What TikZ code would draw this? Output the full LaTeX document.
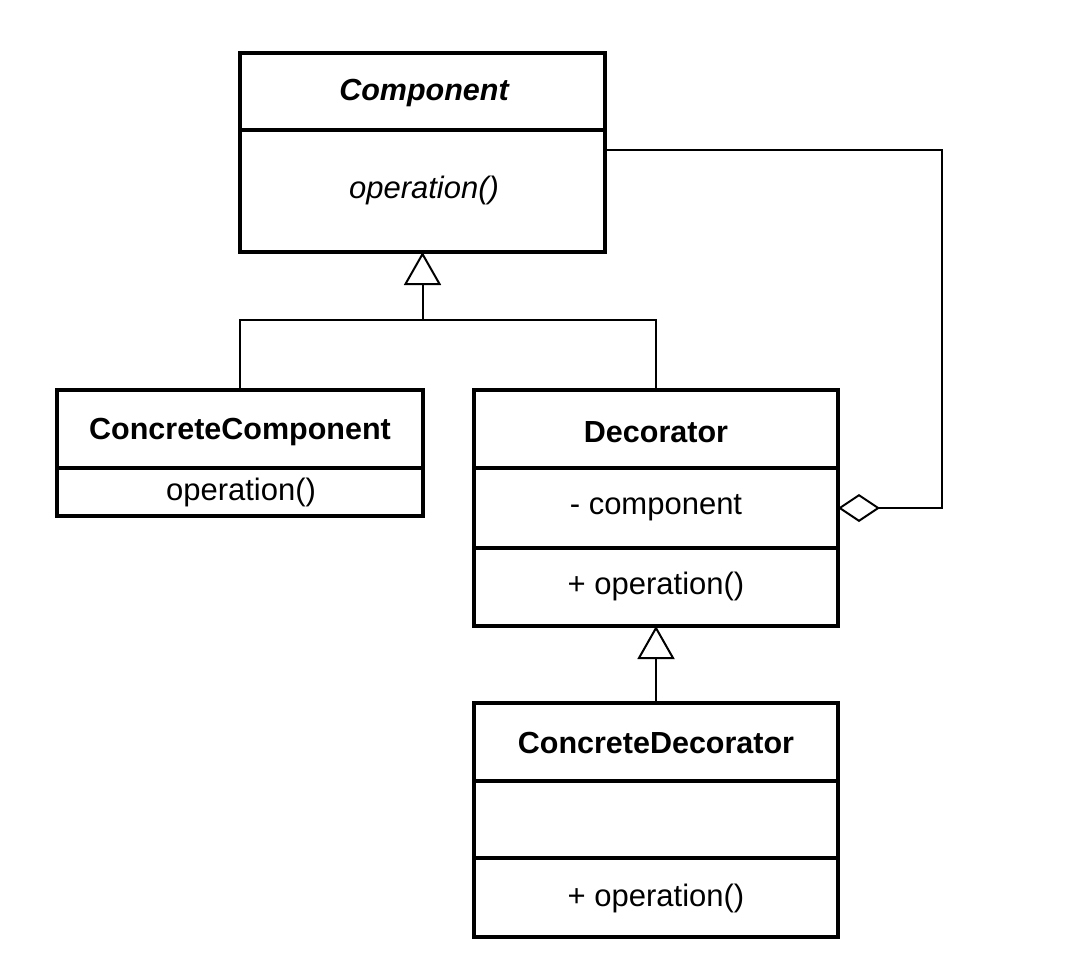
\documentclass[tikz,border=0pt]{standalone}
\usepackage{fontspec}
\setmainfont{Liberation Sans}
\usetikzlibrary{arrows.meta}
\begin{document}
\begin{tikzpicture}[x=1pt,y=-1pt,
  box/.style={draw=black, line width=4pt, inner sep=0pt, outer sep=0pt, anchor=north west, fill=white},
  sep/.style={line width=3.5pt},
  lbl/.style={inner sep=0pt, font=\fontsize{31}{36}\selectfont},
  bold/.style={inner sep=0pt, font=\fontsize{30.5}{36}\selectfont\bfseries},
  conn/.style={line width=2pt},
  inherit/.style={conn, -{Triangle[open, length=33pt, width=37pt, fill=white]}},
  aggr/.style={conn, {Diamond[open, length=42pt, width=28pt, fill=white]}-}]
\useasboundingbox (0,0) rectangle (1072,962);
% boxes
\node[box, minimum width=365pt, minimum height=199pt] (comp) at (240,53) {};
\node[box, minimum width=366pt, minimum height=126pt] (cc) at (57,390) {};
\node[box, minimum width=364pt, minimum height=236pt] (dec) at (474,390) {};
\node[box, minimum width=364pt, minimum height=234pt] (cd) at (474,703) {};
% separators
\draw[sep] (comp.west |- 0,130) -- (comp.east |- 0,130);
\draw[sep] (cc.west |- 0,468) -- (cc.east |- 0,468);
\draw[sep] (dec.west |- 0,468) -- (dec.east |- 0,468);
\draw[sep] (dec.west |- 0,548) -- (dec.east |- 0,548);
\draw[sep] (cd.west |- 0,781) -- (cd.east |- 0,781);
\draw[sep] (cd.west |- 0,858) -- (cd.east |- 0,858);
% labels
\node[bold, font=\fontsize{30.5}{36}\selectfont\bfseries\itshape] (compn) at (424,93) {Component};
\node[lbl, font=\fontsize{31}{36}\selectfont\itshape] (compo) at (424,190) {operation()};
\node[bold] (ccn) at (240,432) {ConcreteComponent};
\node[lbl] (cco) at (241,492) {operation()};
\node[bold] (decn) at (656,432) {Decorator};
\node[lbl] (deca) at (656,508) {- component};
\node[lbl] (deco) at (656,586) {+ operation()};
\node[bold] (cdn) at (656,743) {ConcreteDecorator};
\node[lbl] (cdo) at (656,898) {+ operation()};
% connectors
\coordinate (j) at (422.5,320);
\coordinate (corner) at (942,150);
\draw[conn] (cc.north) |- (j);
\draw[conn] (dec.north) |- (j);
\draw[inherit] (j) -- (comp.south);
\draw[inherit] (cd.north) -- (dec.south);
\draw[aggr] (dec.east |- 0,508) -| (corner) -- (comp.east |- corner);
\end{tikzpicture}
\end{document}
